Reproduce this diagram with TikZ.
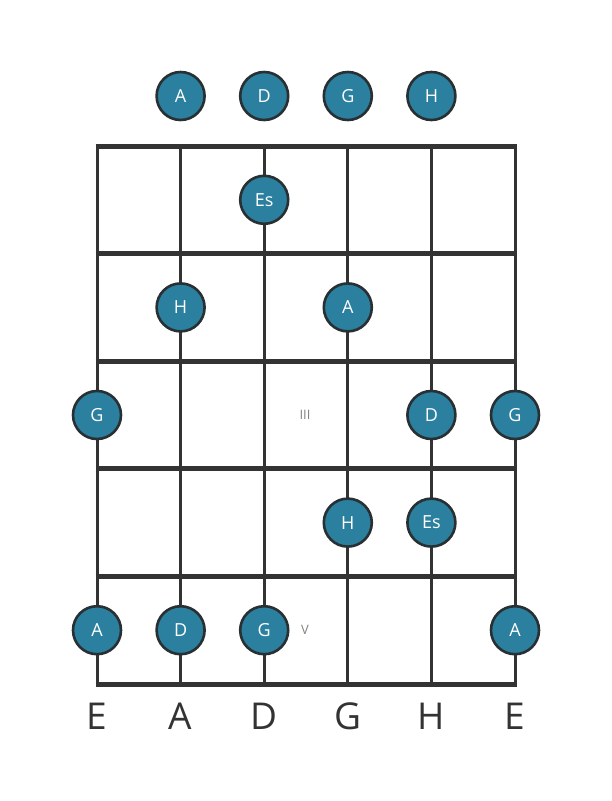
\documentclass[tikz,border=0pt]{standalone}
\usepackage{fontspec}
\setmainfont{Open Sans}
\definecolor{dotfill}{RGB}{42,128,158}
\definecolor{dotline}{RGB}{40,48,52}
\definecolor{gridc}{RGB}{51,51,51}
\definecolor{numc}{RGB}{130,130,130}
\begin{document}
\begin{tikzpicture}[x=1pt,y=-1pt,
  fretline/.style={gridc,line width=5pt},
  stringline/.style={gridc,line width=3pt},
  notedot/.style={circle,fill=dotfill,draw=dotline,line width=2.6pt,minimum size=48pt,inner sep=0pt,text=white,font=\fontsize{18}{18}\selectfont},
  strname/.style={text=gridc,font=\fontsize{37}{37}\selectfont},
  fretnum/.style={text=numc,font=\fontsize{13}{13}\selectfont}]
\useasboundingbox (0,0) rectangle (611,801);
% strings
\foreach \i/\x in {1/97,2/180.6,3/264.2,4/347.8,5/431.4,6/515}{
  \coordinate (st\i) at (\x,146);
  \coordinate (sb\i) at (\x,684);
  \draw[stringline] (st\i) -- (sb\i);
}
% frets
\foreach \j/\y in {0/146,1/253.6,2/361.2,3/468.8,4/576.4,5/684}{
  \coordinate (fl\j) at (95.5,\y);
  \coordinate (fr\j) at (516.5,\y);
  \draw[fretline] (fl\j) -- (fr\j);
}
% open
\node[notedot] (o2) at (180.6,96) {A};
\node[notedot] (o3) at (264.2,96) {D};
\node[notedot] (o4) at (347.8,96) {G};
\node[notedot] (o5) at (431.4,96) {H};
% fret 1
\node[notedot] (a3) at (264.2,199.8) {Es};
% fret 2
\node[notedot] (b2) at (180.6,307.4) {H};
\node[notedot] (b4) at (347.8,307.4) {A};
% fret 3
\node[notedot] (c1) at (97,415) {G};
\node[notedot] (c5) at (431.4,415) {D};
\node[notedot] (c6) at (515,415) {G};
% fret 4
\node[notedot] (d4) at (347.8,522.6) {H};
\node[notedot] (d5) at (431.4,522.6) {Es};
% fret 5
\node[notedot] (e1) at (97,630.2) {A};
\node[notedot] (e2) at (180.6,630.2) {D};
\node[notedot] (e3) at (264.2,630.2) {G};
\node[notedot] (e6) at (515,630.2) {A};
% fret numbers
\node[fretnum] (n3) at (305,415) {III};
\node[fretnum] (n5) at (305,630.2) {V};
% string names
\foreach \i/\x/\t in {1/97/E,2/180.6/A,3/264.2/D,4/347.8/G,5/431.4/H,6/515/E}{
  \node[strname] (sn\i) at (\x,716) {\t};
}
\end{tikzpicture}
\end{document}
